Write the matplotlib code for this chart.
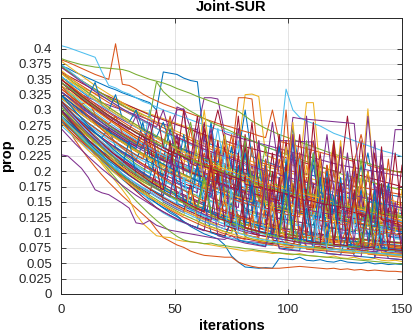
import numpy as np
import matplotlib
matplotlib.use('Agg')
import matplotlib.pyplot as plt
from matplotlib.ticker import FuncFormatter
from cycler import cycler

iterations = list(range(0, 151, 3))

run00 = [372,368,362,357,352,347,342,337,333,328, 324,320,316,312,300,362,360,358,352,348, 346,250,244,240,236,232,228,300,224,220, 216,212,208,205,270,200,196,193,190,186, 183,180,177,175,172,230,168,165,162,160, 158]
run01 = [382,378,373,368,363,358,354,350,408,342, 340,334,326,320,315,310,306,302,298,294, 290,286,282,278,275,272,268,265,262,258, 255,300,249,246,243,240,237,234,231,228, 225,222,219,216,260,210,207,204,202,200, 198]
run02 = [352,347,342,337,332,327,322,318,314,310, 306,302,298,294,290,286,282,278,274,270, 262,258,254,250,246,242,238,325,326,322, 226,222,218,214,210,206,312,312,200,196, 192,188,186,184,182,302,180,176,174,172, 170]
run03 = [338,334,330,325,320,316,312,308,304,300, 296,292,288,284,280,277,274,300,302,270, 268,320,320,318,262,258,255,252,249,246, 243,240,237,234,231,228,225,222,219,216, 213,210,208,206,204,202,200,198,196,194, 192]
run04 = [384,380,377,374,372,370,369,368,367,366, 363,358,354,350,347,344,340,335,331,327, 322,318,314,310,306,302,298,290,282,276, 270,265,260,256,252,248,244,240,236,232, 228,225,222,219,216,213,210,206,203,200, 198]
run05 = [405,402,398,394,390,386,362,340,336,330, 326,320,314,310,305,300,296,292,288,284, 280,276,272,268,265,262,258,255,250,246, 240,236,232,334,300,288,282,278,274,268, 262,258,254,250,246,242,238,234,231,228, 224]
run06 = [362,356,350,344,338,332,327,322,317,312, 307,302,297,292,288,284,280,276,272,268, 264,260,256,300,250,246,243,240,237,234, 231,228,225,222,219,216,213,210,207,204, 201,198,290,196,193,190,187,184,181,178, 175]
run07 = [300,285,270,256,243,230,218,207,197,187, 178,170,162,155,148,141,135,128,118,110, 104,98,94,90,80,62,52,44,43,42, 43,42,58,57,56,60,55,54,56,53, 52,55,52,51,50,52,49,50,48,49, 48]
run08 = [288,270,252,236,221,207,194,182,171,160, 150,140,130,120,105,92,86,80,76,70, 66,63,62,61,60,60,52,48,45,43, 42,42,42,43,44,45,44,43,42,41, 42,40,41,39,40,38,39,38,37,37, 36]
run09 = [298,283,268,254,240,226,212,198,184,170, 155,130,115,105,95,93,92,88,86,85, 84,82,80,78,76,74,72,70,71,69, 68,66,67,65,64,66,63,62,61,60, 62,59,58,60,57,56,58,55,54,55, 53]
run10 = [227,225,215,205,190,170,165,162,155,148, 140,116,114,120,112,108,104,102,100,98, 96,94,92,90,89,95,88,86,85,84, 82,81,150,82,79,78,77,76,78,75, 74,73,72,74,71,70,69,71,68,67, 66]
run11 = [310,293,276,260,245,230,216,202,189,176, 164,152,141,130,120,111,102,94,88,85, 84,82,83,80,79,77,76,74,73,71, 70,68,67,66,65,64,63,62,61,60, 59,58,57,56,55,54,53,52,51,50, 49]
run12 = [318,302,287,272,258,245,232,220,208,196, 185,174,163,152,140,132,126,120,116,112, 108,104,100,97,94,91,88,86,84,82, 80,79,95,77,76,75,74,73,72,71, 70,69,68,67,66,68,65,64,63,62, 61]
run13 = [296,284,272,260,248,236,224,212,200,189, 178,168,158,149,141,134,128,122,117,112, 108,104,101,98,95,120,92,90,88,86, 84,82,81,80,79,110,77,76,75,74, 73,72,71,90,69,68,67,66,65,64, 63]
run14 = [345,338,330,322,314,306,298,291,284,277, 270,263,257,251,245,239,233,228,223,218, 213,208,280,200,196,192,188,184,181,178, 175,172,169,240,164,161,159,157,155,153, 151,149,200,145,143,141,139,137,135,133, 131]
run15 = [360,354,347,340,333,326,319,312,306,300, 294,288,282,276,270,265,260,255,250,245, 240,236,232,228,224,222,320,320,318,215, 212,209,206,203,200,197,194,250,190,187, 184,181,178,176,174,172,170,168,166,164, 162]
run16 = [330,320,310,300,290,281,272,263,255,247, 239,232,225,218,212,206,200,195,190,185, 180,175,171,230,163,160,156,153,150,147, 144,141,138,136,133,131,129,127,200,123, 121,119,117,115,114,112,170,109,108,106, 105]
run17 = [350,342,334,326,318,311,304,297,290,284, 278,272,266,260,255,250,245,240,236,232, 228,224,220,216,212,209,206,203,200,197, 194,191,189,187,288,286,285,284,283,282, 281,280,279,278,150,290,175,170,168,268, 268]
run18 = [312,302,292,282,272,262,253,244,236,228, 220,212,205,198,250,186,180,175,170,165, 160,156,152,148,145,142,190,136,133,130, 128,125,123,121,119,117,115,113,160,110, 108,107,105,104,103,130,100,99,98,97, 96]
run19 = [322,315,307,299,291,283,276,269,262,255, 249,243,237,300,226,221,216,211,206,202, 198,194,190,186,183,180,177,174,240,168, 165,162,160,158,156,154,152,150,148,146, 144,142,140,138,136,134,132,130,128,126, 124]
run20 = [335,326,317,308,299,291,283,275,268,261, 254,247,241,235,229,224,219,214,209,204, 199,280,191,187,183,179,175,260,168,165, 162,159,156,153,230,148,146,144,142,140, 138,136,134,210,130,128,126,124,122,120, 118]
run21 = [300,290,279,269,259,249,240,231,222,214, 206,198,191,184,177,171,165,159,153,148, 143,200,135,131,127,124,121,118,115,112, 110,108,106,220,102,100,98,96,95,93, 92,91,90,89,88,87,160,85,84,83, 82]
run22 = [370,363,356,348,341,334,327,320,313,307, 301,295,289,283,277,271,266,261,256,251, 246,241,236,231,227,223,219,215,211,207, 203,199,196,193,260,187,184,181,178,175, 172,169,166,163,160,157,154,210,149,147, 145]
run23 = [355,345,335,325,315,305,296,287,278,270, 262,254,247,240,233,226,220,214,208,202, 197,192,260,182,178,174,170,166,162,158, 155,152,149,146,143,140,210,135,133,131, 129,127,125,123,121,119,117,115,113,111, 109]
run24 = [330,322,314,306,298,290,283,276,269,262, 256,250,244,238,232,227,222,217,212,207, 202,198,194,190,186,182,270,175,172,169, 166,163,250,250,249,249,248,248,150,148, 146,144,142,140,138,200,134,132,130,128, 126]
run25 = [372,364,356,348,341,334,327,320,314,308, 302,297,292,288,346,330,320,312,305,298, 292,286,280,275,270,265,260,255,250,245, 240,236,232,228,224,220,216,212,208,204, 200,196,193,190,187,184,181,178,175,172, 170]
run26 = [292,281,270,259,249,239,229,220,211,202, 194,186,179,172,165,159,153,147,142,137, 132,128,124,120,180,113,110,107,104,101, 99,97,95,93,91,89,88,86,85,84, 83,130,81,80,79,78,77,76,75,74, 73]
run27 = [310,300,290,281,272,263,255,247,239,232, 225,218,212,206,200,195,190,185,180,176, 172,168,164,250,157,154,151,148,145,220, 140,138,136,134,132,130,128,126,124,210, 120,118,116,115,114,112,111,240,109,108, 107]
run28 = [330,322,313,304,296,288,280,272,265,258, 251,244,238,232,226,220,270,210,205,200, 195,191,187,183,179,240,172,169,166,163, 160,157,154,151,149,147,145,210,141,139, 137,135,133,131,129,127,125,123,180,120, 118]
run29 = [312,301,290,279,268,258,248,238,229,220, 211,203,195,187,180,173,166,160,154,148, 143,138,133,128,124,120,170,113,110,107, 104,101,99,97,95,93,92,90,89,88, 86,85,84,83,82,120,80,79,78,77, 76]
run30 = [380,372,364,356,348,340,333,326,319,312, 305,299,293,287,281,275,270,265,260,255, 250,245,240,236,232,228,224,220,216,212, 208,205,202,199,196,193,190,187,184,181, 250,175,172,169,166,163,160,157,154,151, 148]
run31 = [320,312,304,296,288,280,273,266,259,252, 246,240,234,228,222,217,212,305,300,198, 194,190,186,182,178,174,171,168,165,162, 159,156,153,150,148,230,144,142,140,138, 136,134,132,130,128,200,125,123,121,120, 118]
run32 = [340,330,320,310,301,292,283,275,267,259, 252,245,238,231,225,219,213,207,202,197, 192,187,183,179,175,171,167,230,161,158, 155,152,149,146,143,141,139,137,200,133, 131,129,127,125,123,121,119,117,115,113, 111]
run33 = [375,366,357,348,340,332,324,316,309,302, 295,288,282,276,270,264,258,253,248,243, 238,233,229,225,221,217,213,209,205,201, 197,193,190,187,184,181,178,175,172,169, 166,163,160,157,154,151,148,145,142,139, 136]
run34 = [290,280,270,260,250,241,232,224,216,208, 200,193,186,250,173,167,161,155,150,145, 140,136,132,128,124,200,117,114,111,108, 105,170,100,98,96,94,92,180,89,87, 86,85,84,160,82,81,80,79,140,77, 76]
run35 = [315,306,297,288,279,271,263,255,248,241, 234,227,221,215,209,203,198,193,188,183, 250,174,170,166,162,158,155,152,149,146, 210,140,138,136,134,132,130,128,126,124, 122,120,118,116,170,112,110,108,106,104, 102]
run36 = [345,336,327,318,309,300,292,284,276,268, 261,254,247,240,234,228,222,216,211,270, 201,196,192,188,184,180,176,172,169,166, 163,160,157,154,151,230,145,142,140,138, 136,134,132,130,128,126,124,122,120,118, 116]
run37 = [300,289,278,268,258,248,239,230,221,213, 205,198,191,184,178,172,166,160,155,150, 145,141,200,133,129,126,123,120,117,114, 111,109,107,105,180,101,99,97,95,93, 92,91,90,89,88,87,86,140,84,83, 82]
run38 = [285,274,263,252,242,232,222,213,204,196, 188,180,173,166,159,153,147,141,136,131, 126,122,118,114,110,220,104,101,98,96, 94,92,90,200,86,84,83,82,190,80, 79,78,77,76,75,74,180,72,71,70, 69]
run39 = [350,341,332,323,315,307,299,291,284,277, 270,263,257,251,245,239,234,229,224,219, 214,210,206,202,198,194,190,186,183,180, 177,174,171,168,165,162,250,156,153,150, 148,146,144,142,140,138,136,134,132,130, 128]
run40 = [305,295,285,275,266,257,248,240,232,224, 217,210,203,197,191,185,179,174,169,230, 159,155,151,147,143,139,136,133,130,210, 124,121,119,117,115,113,111,109,107,105, 103,101,100,99,98,97,96,95,94,93, 92]
run41 = [320,311,302,293,285,277,269,261,254,247, 240,233,227,221,215,209,204,260,194,189, 184,180,176,172,240,164,160,157,154,151, 148,230,142,139,137,135,133,131,220,127, 125,123,121,119,117,200,113,111,109,107, 105]
run42 = [282,272,262,252,243,234,225,217,209,201, 193,186,179,172,166,160,210,148,143,138, 133,129,125,200,117,114,111,108,105,102, 100,98,190,94,92,90,88,86,85,84, 83,160,81,80,79,78,77,76,75,74, 73]
run43 = [325,316,307,298,289,281,273,265,257,250, 243,236,229,223,217,211,205,200,195,190, 185,180,176,172,168,164,160,156,240,150, 147,144,141,138,135,133,131,129,127,210, 123,121,119,117,115,113,111,109,107,105, 103]
run44 = [365,356,347,338,329,321,313,305,297,290, 283,276,269,262,256,250,244,238,233,228, 223,218,213,208,204,200,196,192,188,184, 180,177,174,171,168,165,162,159,156,153, 150,147,144,210,138,135,132,129,126,123, 120]
run45 = [310,300,290,281,272,263,254,246,238,230, 223,216,209,203,197,191,185,180,175,170, 165,260,157,153,149,145,141,250,135,132, 129,126,123,121,119,117,115,230,111,109, 107,105,103,200,100,99,98,97,170,95, 94]
run46 = [295,285,275,265,256,247,238,230,222,214, 207,200,193,187,181,175,169,164,159,154, 149,145,141,137,210,129,126,123,120,117, 114,111,109,107,105,190,101,99,97,95, 94,93,92,91,90,89,88,87,86,85, 84]
run47 = [340,331,322,313,304,296,288,280,272,265, 258,251,244,238,232,226,220,214,209,204, 199,194,190,186,182,178,250,170,167,164, 161,158,155,152,149,146,143,140,137,134, 200,128,125,122,119,116,113,110,107,104, 101]
run48 = [300,290,280,270,261,252,243,235,227,219, 212,205,198,191,185,179,173,167,162,157, 152,148,230,140,136,132,128,125,122,250, 116,113,110,210,106,104,102,100,98,96, 240,92,91,90,89,88,87,86,85,84, 83]
run49 = [310,301,290,284,270,262,255,270,240,232, 226,218,245,205,198,193,230,182,176,172, 210,163,158,200,150,146,180,139,136,220, 130,127,170,122,119,200,115,112,160,108, 106,190,103,101,140,98,96,170,94,92, 91]
run50 = [335,326,318,309,315,293,285,277,290,262, 255,248,241,265,228,222,216,240,205,200, 195,230,186,182,250,174,170,166,210,159, 156,153,220,147,144,141,190,136,133,131, 200,127,125,123,180,119,117,115,160,112, 110]
run51 = [290,279,268,258,262,240,231,222,214,206, 198,191,184,177,200,165,159,153,148,143, 138,180,130,126,122,160,116,113,110,190, 105,102,100,98,150,94,92,90,170,87, 86,84,83,130,81,80,79,150,77,76, 75]
run52 = [345,337,328,320,312,304,296,289,282,275, 268,290,256,250,244,238,232,260,221,216, 211,206,270,197,193,189,185,250,178,174, 171,168,240,162,159,156,290,151,148,146, 144,142,230,138,136,134,250,130,128,127, 125]
run53 = [320,311,302,293,285,277,269,262,255,248, 241,235,229,223,217,211,240,200,195,190, 186,182,178,210,170,166,162,159,200,153, 150,147,144,141,180,136,134,132,130,128, 160,124,122,120,118,150,114,112,110,108, 106]
run54 = [300,290,280,271,262,253,245,237,229,222, 215,208,202,196,190,184,179,174,169,164, 190,155,151,147,143,139,170,132,129,126, 123,120,160,115,113,111,109,140,105,103, 101,99,98,130,95,94,93,92,120,90, 89]
run55 = [325,316,307,299,291,283,275,268,261,254, 247,241,260,229,223,218,213,250,203,198, 194,190,260,182,178,174,170,240,164,161, 158,155,152,250,147,144,142,140,230,136, 134,132,130,220,127,125,123,200,120,118, 210]
run56 = [355,346,338,330,322,345,307,300,325,286, 280,300,268,262,256,280,245,240,235,230, 225,221,217,213,260,205,201,197,194,190, 187,184,240,178,175,172,170,220,165,163, 161,159,157,155,210,151,149,147,145,143, 141]
run57 = [300,289,278,268,258,248,238,229,220,211, 203,195,187,180,173,166,160,154,148,170, 138,133,128,124,150,116,112,109,106,103, 140,98,96,94,92,90,130,87,86,85, 84,83,110,81,80,79,78,100,76,75, 74]
run58 = [340,332,324,316,308,300,292,285,278,271, 264,257,251,245,239,233,228,223,218,213, 209,205,201,197,260,189,185,182,179,176, 173,170,167,240,161,158,155,152,150,148, 146,144,142,140,138,200,134,132,130,128, 126]
run59 = [300,290,280,270,261,252,243,234,226,218, 210,203,196,189,183,177,220,165,160,155, 150,145,220,137,133,129,125,122,200,116, 113,170,108,106,104,210,100,98,96,94, 180,91,90,89,160,87,86,85,84,150, 82]
run60 = [360,352,344,336,328,320,312,304,297,290, 283,276,270,264,258,252,246,240,235,280, 225,220,216,212,208,204,200,196,192,188, 240,180,177,174,171,168,165,162,159,156, 153,150,147,144,141,138,135,132,129,126, 124]
run61 = [355,347,339,331,323,315,307,300,293,286, 279,272,266,260,254,248,242,236,231,226, 221,216,211,270,202,198,194,190,186,182, 178,174,171,168,165,162,159,230,153,150, 147,144,141,138,135,132,129,126,123,120, 118]
run62 = [280,269,258,248,238,228,219,210,201,193, 185,177,170,163,210,150,144,138,133,180, 123,118,114,110,106,103,190,97,94,92, 200,88,86,84,82,80,170,78,77,76, 75,180,73,72,71,70,150,68,67,66, 65]
run63 = [325,316,307,298,289,281,273,265,258,251, 244,237,280,224,218,212,206,200,260,190, 185,180,175,171,167,163,159,230,152,149, 146,143,140,137,250,131,129,127,125,200, 121,119,117,115,113,111,109,180,105,103, 101]
run64 = [350,342,334,326,318,310,302,295,288,281, 274,267,261,255,249,243,290,232,227,222, 217,212,208,204,200,260,192,188,184,180, 176,172,169,300,163,160,157,154,151,148, 145,240,139,136,133,130,127,124,220,118, 115]
run65 = [320,311,302,293,285,277,269,261,254,247, 240,233,227,221,215,209,203,198,193,188, 250,178,174,170,166,162,158,154,151,230, 145,142,139,136,133,130,128,126,220,122, 120,118,116,114,190,110,108,106,104,102, 170]
run66 = [370,362,354,346,338,330,323,316,309,302, 296,290,284,278,272,300,261,256,251,246, 241,236,232,228,224,220,216,212,208,204, 200,280,194,191,188,185,182,179,176,260, 170,167,164,161,158,155,152,210,146,143, 140]
run67 = [285,275,265,255,246,237,228,220,212,204, 197,190,183,177,171,165,159,154,149,144, 139,190,131,127,123,120,117,114,111,108, 170,103,101,99,97,95,93,91,90,160, 88,87,86,85,84,83,150,81,80,79, 78]
run68 = [310,301,292,283,275,267,259,251,244,237, 230,223,217,211,205,250,194,189,184,179, 174,170,166,162,230,154,150,147,144,141, 138,135,132,129,127,220,123,121,119,117, 115,113,200,109,107,105,103,101,99,97, 95]
run69 = [345,336,327,318,310,302,294,286,279,272, 265,258,252,246,240,234,228,223,300,213, 208,270,199,195,191,187,290,179,176,173, 170,167,260,161,158,155,152,280,148,146, 144,142,140,138,250,134,132,130,128,230, 124]
run70 = [290,280,270,260,251,242,233,225,217,209, 250,195,188,182,176,170,164,210,153,148, 143,139,135,131,127,123,210,117,114,111, 108,106,104,180,100,98,96,94,190,90, 89,88,87,86,85,150,83,82,81,80, 79]
run71 = [315,305,296,287,278,270,262,254,247,240, 233,226,220,260,208,202,197,192,187,182, 177,172,168,240,160,156,152,148,145,142, 220,136,133,130,128,126,240,122,120,118, 116,114,112,190,108,106,104,102,100,98, 96]
run72 = [360,351,342,333,325,317,309,301,294,287, 280,273,266,260,254,248,242,236,231,226, 221,300,212,208,204,200,196,192,188,184, 180,177,174,171,280,165,162,159,156,153, 150,250,144,141,138,135,132,129,126,123, 120]
run73 = [330,321,312,303,295,287,279,271,264,257, 250,243,237,280,225,219,213,208,203,198, 270,188,184,180,176,172,168,164,160,250, 154,151,148,145,260,139,137,135,133,131, 129,240,125,123,121,119,117,230,113,111, 109]
run74 = [345,337,329,321,313,305,298,291,284,277, 270,264,258,252,246,240,280,230,225,220, 215,210,206,202,198,194,190,250,182,178, 175,172,169,166,163,160,157,230,151,148, 146,144,142,140,220,136,134,132,130,128, 126]
run75 = [275,265,255,246,237,228,219,211,203,195, 188,181,174,168,162,156,150,145,190,135, 130,126,122,118,114,111,108,170,102,99, 97,95,93,91,89,87,160,84,83,82, 81,80,79,140,77,76,75,74,73,72, 71]
run76 = [350,341,332,323,315,307,299,291,284,277, 270,263,257,251,300,239,233,228,223,218, 290,208,204,200,196,192,188,184,280,176, 172,169,166,163,160,260,154,151,148,145, 250,139,136,133,130,127,230,121,118,115, 112]
run77 = [300,288,272,262,248,236,226,214,205,195, 184,176,165,158,148,140,132,126,118,112, 108,150,100,96,92,120,88,85,83,80, 78,110,75,74,72,71,140,69,68,66, 65,64,100,62,61,60,59,90,58,57, 56]
run78 = [285,274,262,250,240,229,219,210,200,191, 182,174,166,158,151,144,137,131,125,120, 115,110,106,102,98,95,92,89,130,84, 82,80,78,76,75,110,73,72,71,70, 69,68,67,66,90,65,64,63,62,61, 60]
run79 = [310,296,284,271,259,248,237,226,216,206, 197,188,180,172,164,157,150,143,137,131, 126,121,116,112,160,104,100,97,94,91, 89,87,120,83,81,79,78,77,76,110, 74,73,72,71,70,69,100,68,67,66, 65]
run80 = [270,258,246,235,224,214,204,195,186,177, 169,161,154,147,140,134,128,122,117,112, 107,103,180,95,92,89,86,83,81,79, 77,150,74,72,71,70,69,68,160,66, 65,64,63,62,61,140,60,59,58,57, 56]
run81 = [290,277,265,253,242,231,221,211,202,193, 184,176,168,161,154,147,141,135,129,124, 119,114,110,106,102,99,130,93,90,88, 86,84,82,80,120,78,77,76,75,74, 73,72,71,70,100,68,67,66,65,64, 63]
run82 = [315,302,289,277,265,254,243,233,223,214, 205,196,188,180,172,165,158,151,190,139, 133,128,123,118,114,110,106,103,100,150, 94,92,90,88,86,84,82,130,80,79, 78,77,76,75,74,73,72,110,70,69, 68]
run83 = [300,287,275,263,252,241,231,221,212,203, 194,186,178,171,164,157,151,145,139,134, 129,124,120,200,112,108,105,170,99,96, 94,92,190,88,86,84,160,82,81,80, 79,180,77,76,75,150,73,72,71,140, 69]
run84 = [325,312,299,287,275,264,253,243,233,224, 215,206,198,190,230,175,168,161,155,149, 210,137,132,127,122,118,114,110,180,103, 100,97,95,200,91,89,87,85,83,82, 160,80,79,78,77,76,170,74,73,72, 71]
run85 = [340,327,314,302,290,279,268,258,248,238, 229,220,212,204,196,189,182,175,169,163, 157,151,220,141,136,131,127,123,119,115, 200,109,106,103,100,180,96,94,92,90, 88,87,86,150,84,83,82,81,80,79, 78]
run86 = [280,268,256,245,234,224,214,205,196,188, 180,172,165,158,151,145,139,133,128,170, 118,113,109,105,101,98,95,92,89,87, 85,150,81,79,77,76,75,74,73,72, 130,70,69,68,67,66,65,64,63,62, 61]
run87 = [310,297,285,273,262,251,240,230,221,212, 203,195,187,179,172,165,158,230,146,140, 135,130,125,120,200,112,108,104,101,98, 190,92,90,88,230,84,82,81,80,180, 78,77,200,75,74,73,72,71,170,69, 68]
run88 = [305,293,281,270,259,249,239,229,220,211, 203,195,187,180,173,166,160,154,148,142, 137,190,127,123,119,115,111,107,104,101, 98,95,93,160,89,87,85,83,82,81, 80,79,78,77,76,130,74,73,72,71, 70]
run89 = [290,278,266,255,244,234,224,214,205,196, 188,180,172,165,158,151,145,139,133,128, 123,118,114,110,106,170,99,96,93,90, 88,86,84,82,80,78,77,76,140,74, 73,72,71,70,69,68,67,66,65,64, 63]
run90 = [315,302,290,278,267,256,246,236,226,217, 208,200,192,184,177,170,250,157,151,145, 139,134,210,124,120,116,230,108,105,102, 99,200,94,92,90,210,86,84,83,190, 81,80,79,170,77,76,75,180,73,72, 71]

runs = [run00, run01, run02, run03, run04, run05, run06,
        run07, run08, run09, run10, run11, run12, run13,
        run14, run15, run16, run17, run18, run19, run20,
        run21, run22, run23, run24, run25, run26, run27,
        run28, run29, run30, run31, run32, run33, run34,
        run35, run36, run37, run38, run39, run40, run41,
        run42, run43, run44, run45, run46, run47, run48,
        run49, run50, run51, run52, run53, run54, run55,
        run56, run57, run58, run59, run60, run61, run62,
        run63, run64, run65, run66, run67, run68, run69,
        run70, run71, run72, run73, run74, run75, run76,
        run77, run78, run79, run80, run81, run82, run83,
        run84, run85, run86, run87, run88, run89, run90]

y_ticks = [0, 0.025, 0.05, 0.075, 0.1, 0.125, 0.15, 0.175, 0.2, 0.225,
           0.25, 0.275, 0.3, 0.325, 0.35, 0.375, 0.4]
x_ticks = [0, 50, 100, 150]

for i, r in enumerate(runs):
    if len(r) != len(iterations):
        raise ValueError(f"run{i:02d} has {len(r)} values")

plt.rcParams['font.family'] = ['Liberation Sans', 'DejaVu Sans']
dark = '#262626'
fig = plt.figure(figsize=(4.14, 3.33), dpi=100)
ax = fig.add_axes([61/414, 39/333, 341/414, 276/333])
colors = ['#0072BD', '#D95319', '#EDB120', '#7E2F8E', '#77AC30', '#4DBEEE', '#A2142F']
ax.set_prop_cycle(cycler(color=colors))
for r in runs:
    ax.plot(iterations, [v / 1000 for v in r], lw=0.75)

ax.set_xlim(0, 150)
ax.set_ylim(0, 0.45)
ax.set_xticks(x_ticks)
ax.set_yticks(y_ticks)
ax.yaxis.set_major_formatter(FuncFormatter(lambda v, p: f"{v:g}"))
ax.grid(True, color=dark, alpha=0.15, lw=0.6)
ax.set_axisbelow(True)
ax.tick_params(direction='in', length=3.5, width=0.6, top=True, right=True,
               labelsize=9.5, colors=dark)
ax.tick_params(axis='x', pad=7)
ax.tick_params(axis='y', pad=6.5)
for s in ax.spines.values():
    s.set_color(dark)
    s.set_linewidth(0.7)
ax.set_title('Joint-SUR', fontsize=10.5, fontweight='bold', color='black', pad=5)
ax.set_xlabel('iterations', fontsize=10.5, fontweight='bold', color='black', labelpad=2)
ax.set_ylabel('prop', fontsize=10.5, fontweight='bold', color='black', labelpad=3)

fig.savefig('out.png', dpi=100)
